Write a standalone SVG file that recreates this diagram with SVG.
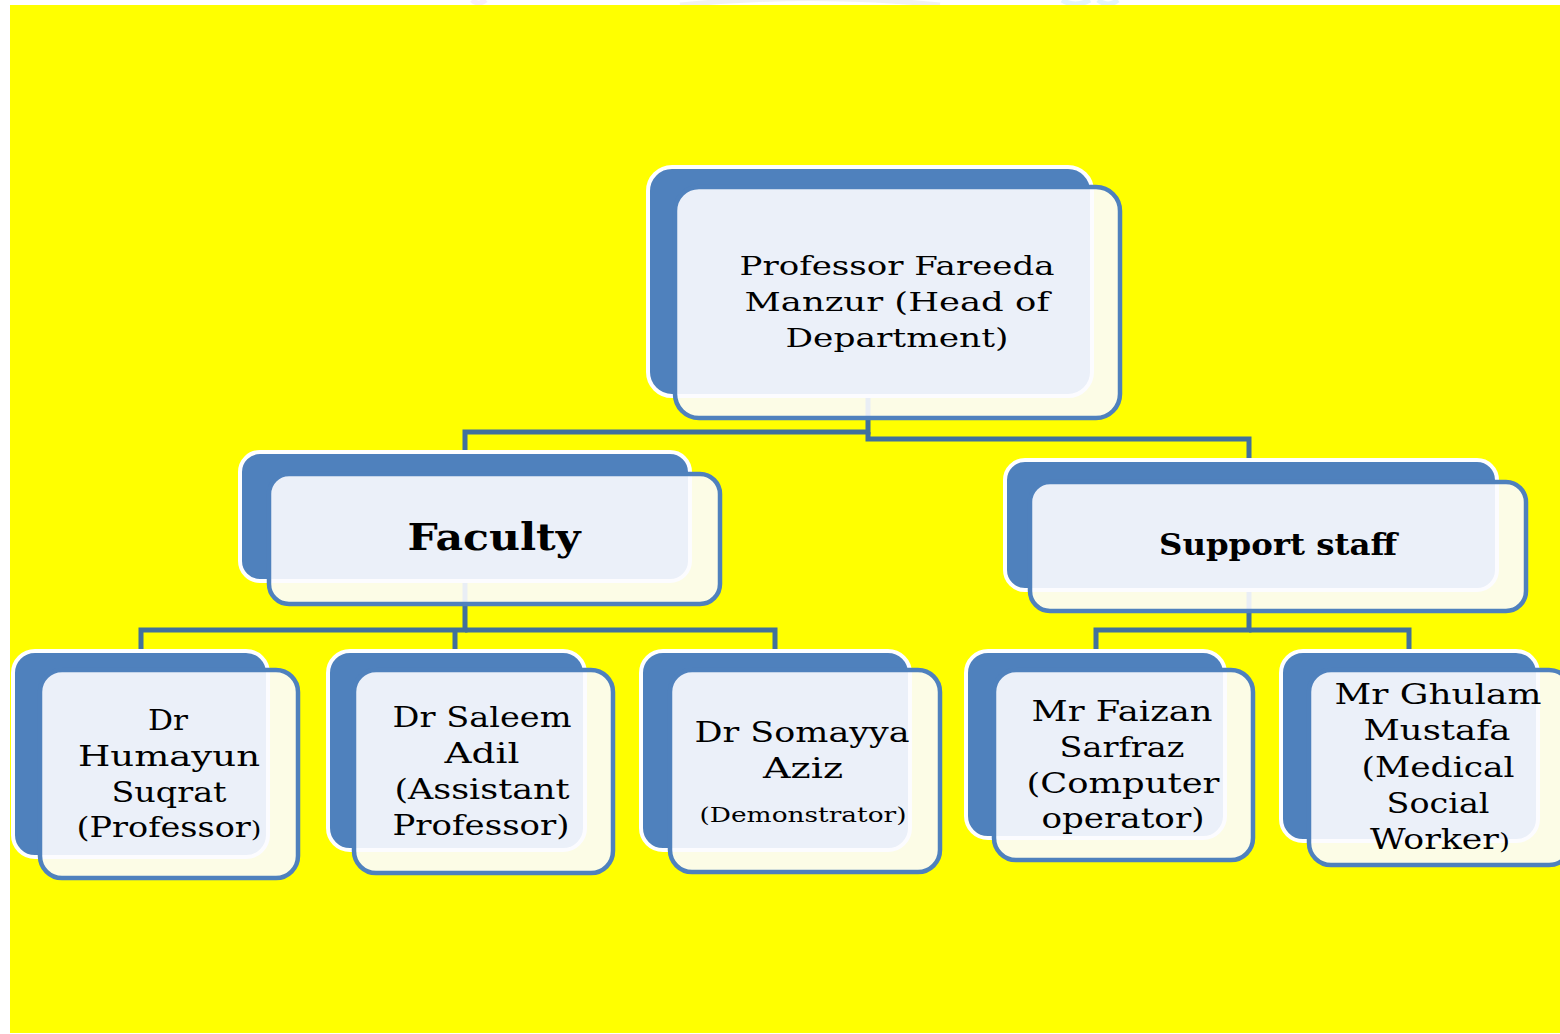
<svg xmlns="http://www.w3.org/2000/svg" width="1560" height="1034" viewBox="0 0 1560 1034">
  <style>
    .back { fill: #4F81BD; stroke: #FFFFFF; stroke-width: 4; }
    .front { fill: #FCFCFF; fill-opacity: 0.9; stroke: #4F81BD; stroke-width: 4.5; }
    .conn { fill: none; stroke: #41719C; stroke-width: 5; stroke-linejoin: miter; }
    .t { font-family: "DejaVu Serif", "Liberation Serif", serif; fill: #000000; text-anchor: middle; }
    .root { font-size: 26px; }
    .leaf { font-size: 27px; }
    .small { font-size: 20px; }
    .bold { font-weight: bold; }
  </style>
  <rect x="0" y="0" width="1560" height="1034" fill="#FFFFFF"/>
  <g id="watermark" fill="none" stroke-width="5" opacity="0.4">
    <path d="M472,0 Q478,6 486,0" stroke="#EAD0F5"/>
    <path d="M680,5 Q810,-8 940,5" stroke="#DDDDDD"/>
    <path d="M1062,0 Q1075,8 1090,0 M1098,0 Q1108,8 1118,0" stroke="#B8E0F8"/>
  </g>
  <rect x="10" y="5" width="1550" height="1028" fill="#FFFF00"/>

  <g id="connectors">
    <path class="conn" d="M868,396 V432 H465 V452"/>
    <path class="conn" d="M868,432 V439 H1249 V460"/>
    <path class="conn" d="M465,582 V630 H141 V651"/>
    <path class="conn" d="M455,630 V651"/>
    <path class="conn" d="M465,630 H775 V651"/>
    <path class="conn" d="M1249,592 V630 H1096 V651"/>
    <path class="conn" d="M1249,630 H1409 V651"/>
  </g>

  <g id="node-root">
    <rect class="back" x="648" y="167" width="444" height="229" rx="24"/>
    <rect class="front" x="675" y="187" width="445" height="231" rx="24"/>
    <text class="t root" x="897" y="275" textLength="315" lengthAdjust="spacingAndGlyphs">Professor Fareeda</text>
    <text class="t root" x="897" y="311" textLength="305" lengthAdjust="spacingAndGlyphs">Manzur (Head of</text>
    <text class="t root" x="897" y="347" textLength="223" lengthAdjust="spacingAndGlyphs">Department)</text>
  </g>

  <g id="node-faculty">
    <rect class="back" x="240" y="452" width="450" height="129" rx="20"/>
    <rect class="front" x="269" y="474" width="451" height="130" rx="20"/>
    <text class="t bold" x="494" y="550" font-size="38" textLength="173" lengthAdjust="spacingAndGlyphs">Faculty</text>
  </g>

  <g id="node-support">
    <rect class="back" x="1005" y="460" width="492" height="130" rx="20"/>
    <rect class="front" x="1030" y="482" width="496" height="129" rx="20"/>
    <text class="t bold" x="1278" y="555" font-size="30" textLength="238" lengthAdjust="spacingAndGlyphs">Support staff</text>
  </g>

  <g id="node-humayun">
    <rect class="back" x="13" y="651" width="255" height="206" rx="22"/>
    <rect class="front" x="40" y="670" width="258" height="208" rx="22"/>
    <text class="t leaf" x="168" y="730" textLength="40" lengthAdjust="spacingAndGlyphs">Dr</text>
    <text class="t leaf" x="169" y="766" textLength="182" lengthAdjust="spacingAndGlyphs">Humayun</text>
    <text class="t leaf" x="169" y="802" textLength="115" lengthAdjust="spacingAndGlyphs">Suqrat</text>
    <text class="t leaf" x="169" y="837" textLength="185" lengthAdjust="spacingAndGlyphs">(Professor<tspan font-size="22">)</tspan></text>
  </g>

  <g id="node-saleem">
    <rect class="back" x="328" y="651" width="257" height="199" rx="22"/>
    <rect class="front" x="354" y="670" width="259" height="203" rx="22"/>
    <text class="t leaf" x="482" y="727" textLength="179" lengthAdjust="spacingAndGlyphs">Dr Saleem</text>
    <text class="t leaf" x="482" y="763" textLength="75" lengthAdjust="spacingAndGlyphs">Adil</text>
    <text class="t leaf" x="482" y="799" textLength="175" lengthAdjust="spacingAndGlyphs">(Assistant</text>
    <text class="t leaf" x="481" y="835" textLength="177" lengthAdjust="spacingAndGlyphs">Professor)</text>
  </g>

  <g id="node-somayya">
    <rect class="back" x="641" y="651" width="269" height="199" rx="22"/>
    <rect class="front" x="670" y="670" width="270" height="202" rx="22"/>
    <text class="t leaf" x="802" y="742" textLength="215" lengthAdjust="spacingAndGlyphs">Dr Somayya</text>
    <text class="t leaf" x="803" y="778" textLength="80" lengthAdjust="spacingAndGlyphs">Aziz</text>
    <text class="t small" x="803" y="822" textLength="207" lengthAdjust="spacingAndGlyphs">(Demonstrator)</text>
  </g>

  <g id="node-faizan">
    <rect class="back" x="966" y="651" width="259" height="187" rx="22"/>
    <rect class="front" x="994" y="670" width="259" height="190" rx="22"/>
    <text class="t leaf" x="1122" y="721" textLength="181" lengthAdjust="spacingAndGlyphs">Mr Faizan</text>
    <text class="t leaf" x="1122" y="757" textLength="125" lengthAdjust="spacingAndGlyphs">Sarfraz</text>
    <text class="t leaf" x="1123" y="793" textLength="193" lengthAdjust="spacingAndGlyphs">(Computer</text>
    <text class="t leaf" x="1123" y="828" textLength="163" lengthAdjust="spacingAndGlyphs">operator)</text>
  </g>

  <g id="node-ghulam">
    <rect class="back" x="1281" y="651" width="257" height="190" rx="22"/>
    <rect class="front" x="1309" y="670" width="262" height="195" rx="22"/>
    <text class="t leaf" x="1438" y="704" textLength="207" lengthAdjust="spacingAndGlyphs">Mr Ghulam</text>
    <text class="t leaf" x="1437" y="740" textLength="147" lengthAdjust="spacingAndGlyphs">Mustafa</text>
    <text class="t leaf" x="1438" y="777" textLength="153" lengthAdjust="spacingAndGlyphs">(Medical</text>
    <text class="t leaf" x="1438" y="813" textLength="103" lengthAdjust="spacingAndGlyphs">Social</text>
    <text class="t leaf" x="1440" y="849" textLength="140" lengthAdjust="spacingAndGlyphs">Worker<tspan font-size="22">)</tspan></text>
  </g>
</svg>
